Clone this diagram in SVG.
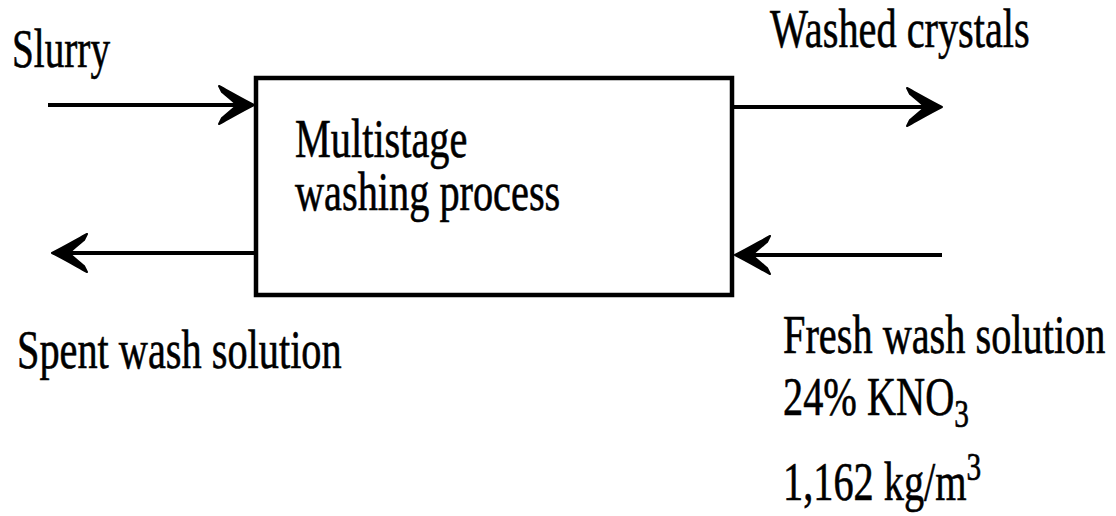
<svg xmlns="http://www.w3.org/2000/svg" width="1116" height="516" viewBox="0 0 1116 516">
<style>
.t{font-family:"Liberation Serif","Times New Roman",serif;font-size:55px;fill:#000;stroke:#000;stroke-width:0.6}
.s{font-size:40px}
.ln{stroke:#000;stroke-width:4;fill:none}
.box{stroke:#000;stroke-width:4.5;fill:#fff}
</style>
<defs>
<marker id="ah" viewBox="-40 -22 44 44" markerWidth="44" markerHeight="44" refX="-8" refY="0" orient="auto" markerUnits="userSpaceOnUse">
<path d="M0,0 C-12,-6 -24,-13 -35,-19 L-32,-13 C-26,-8 -21,-4 -17,0 C-21,4 -26,8 -32,13 L-35,19 C-24,13 -12,6 0,0 Z" fill="#000" stroke="#000" stroke-width="2" stroke-linejoin="round"/>
</marker>
</defs>
<rect width="1116" height="516" fill="#fff"/>
<g id="connectors">
<path class="ln" d="M48,105 L246,105" marker-end="url(#ah)"/>
<path class="ln" d="M732,107 L934,107" marker-end="url(#ah)"/>
<path class="ln" d="M256,253 L60,253" marker-end="url(#ah)"/>
<path class="ln" d="M942,255 L743,255" marker-end="url(#ah)"/>
</g>
<g id="process">
<rect class="box" x="256" y="78" width="476" height="217"/>
<text class="t" transform="translate(295,157) scale(0.733,1)"><tspan x="0" y="0">Multistage</tspan><tspan x="0" y="53">washing process</tspan></text>
</g>
<g id="slurry">
<text class="t" transform="translate(12,67) scale(0.713,1)">Slurry</text>
</g>
<g id="washed">
<text class="t" transform="translate(770,47) scale(0.733,1)">Washed crystals</text>
</g>
<g id="spent">
<text class="t" transform="translate(17,368) scale(0.733,1)">Spent wash solution</text>
</g>
<g id="fresh">
<text class="t" transform="translate(783,353) scale(0.733,1)">Fresh wash solution</text>
<text class="t" transform="translate(783,415) scale(0.733,1)">24% KNO<tspan class="s" dy="12">3</tspan></text>
<text class="t" transform="translate(783,500) scale(0.733,1)">1,162 kg/m<tspan class="s" dy="-20">3</tspan></text>
</g>
</svg>
